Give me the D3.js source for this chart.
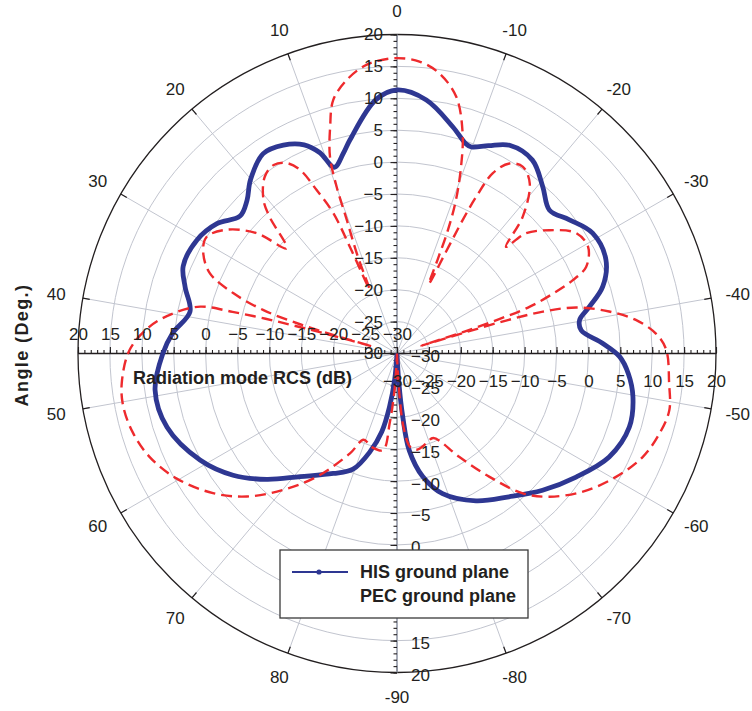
<!DOCTYPE html>
<html>
<head>
<meta charset="utf-8">
<script src="https://cdn.jsdelivr.net/npm/d3@7"></script>
<style>
    body { margin: 0; background: #fff; }
    svg { display: block; font-family: "Liberation Sans", Arial, sans-serif; }
</style>
</head>
<body>
<div id="chart"></div>
<script>
// ---- data (angle in degrees, RCS in dB) ----
const hisAngle = [-90, -89, -88.2, -87.4, -86.4, -84.1, -81, -75.9, -71, -66.6, -62.3, -58, -53.8, -50.2, -47.5,
    -45.4, -43.6, -41.4, -39.8, -38.2, -36, -32.9, -29.2, -26.1, -23.4, -20.6, -17.5, -14.2, -11.9, -9.9,
    -9.1, -6.9, -3.3, 0, 2.4, 6.2, 7.5, 9.3, 10.5, 12, 14.3, 16.9, 20.1, 22.2, 24.4, 27.1, 30.2, 33.9, 36.3,
    39.3, 42.4, 45, 49.3, 53.9, 59.2, 63.3, 67, 70.9, 76, 79.6, 82.3, 84.5, 86, 87.5, 89, 90];
const hisRcs = [-40, -32, -25.5, -20.1, -14.7, -10.3, -6.9, -3.8, -1.5, 1.3, 4.1, 7.0, 8.2, 7.6, 6.4,
    4.9, 2.3, -0.9, -0.9, 1.0, 3.9, 5.9, 6.0, 4.2, 2.8, 4.7, 7.0, 7.1, 5.6, 4.4,
    4.6, 6.6, 10.0, 11.3, 9.9, 4.3, 2.5, 0.8, 3.7, 5.8, 7.2, 7.7, 5.6, 3.6, 2.7, 4.8, 6.05, 6.2, 4.8,
    3.1, 5.3, 6.7, 8.35, 7.85, 5.1, 2.0, -1.6, -5.45, -8.7, -10.6, -14, -17.5, -21.5, -26, -31, -40];

const pecAngle = [-90, -89, -88.2, -87.5, -86, -84.2, -80.9, -78.4, -74.5, -71.6, -69, -66.6, -63.3, -59.7, -56.4,
    -53.5, -50.9, -48.1, -44.6, -42.8, -41, -39.4, -37.8, -37, -36.6, -36.4, -36.2, -36, -35.7, -35.3,
    -34.5, -33.7, -32.7, -30.4, -28, -25.5, -23.5, -22.8, -21.3, -19, -17, -15.3, -14, -13.4, -13.1,
    -12.9, -12.3, -11.7, -11.2, -10.5, -9.45, -8.3, -6.5, -4.3, -2.2, 0, 2.1, 3.35, 5.2, 7.05,
    8.2, 9.4, 9.95, 10.3, 10.95, 11.6, 11.9, 12.2, 13.1, 13.9, 15.05, 16.6, 18.4, 20.5, 21.5,
    23.2, 24.7, 27, 29.3, 31.3, 33.4, 34.9, 36, 36.6, 36.9, 37, 37.2, 37.4, 37.6, 37.9,
    38.3, 39.9, 41.9, 44.6, 48.1, 50.5, 53.4, 56.4, 59.8, 63.6, 66.8, 70.1, 73.5, 77.4, 79.4,
    82.5, 85.9, 87, 88, 89, 90];
const pecRcs = [-40, -28, -22.7, -18.5, -15.2, -14.6, -15.2, -15.6, -11.1, -5.9, -0.5, 2.8, 6.3, 9.4, 11.8,
    13.0, 13.6, 12.9, 12.2, 10.7, 7.8, 3.9, -1.0, -6.2, -12, -19, -26, -19, -13, -8,
    -3.8, -0.2, 2.6, 4.3, 3.8, 0.7, -2.4, -6.1, -0.9, 3.8, 5.3, 4.6, 2.0, -2.5, -6.7,
    -11.4, -18, -14, -9, -4.2, 1.0, 6.0, 11.3, 14.4, 15.9, 16.3, 15.9, 15.3, 13.6, 11.0,
    7.1, 2.6, -2.2, -7.6, -13.1, -19, -12.5, -5.9, -1.4, 2.5, 4.5, 5.3, 4.6, 1.9, -0.7,
    -6.1, -1.0, 3.0, 5.0, 4.2, 1.9, -2.7, -8, -14, -20, -26, -20, -14, -8.7, -3.4,
    1.7, 5.6, 9.0, 11.9, 13.4, 13.7, 13.2, 12.0, 9.7, 6.2, 2.5, -2.2, -7.0, -12.7, -15.5,
    -14.8, -14.7, -19, -24, -29, -40];

const rcsTicks = [-30, -25, -20, -15, -10, -5, 0, 5, 10, 15, 20];
const angleTicks = [-90, -80, -70, -60, -50, -40, -30, -20, -10, 0, 10, 20, 30, 40, 50, 60, 70, 80];
const seriesNames = ['HIS ground plane', 'PEC ground plane'];

// ---- layout ----
const width = 752, height = 711;
const cx = 397, cy = 353.5, R = 319;
const blue = '#2e3792', red = '#ee2a2d', grid = '#c2c5cf', ink = '#231f20';

const svg = d3.select('#chart').append('svg')
    .attr('width', width)
    .attr('height', height);

// scales: radius from dB, angle doubled (180 deg of data cover the full circle)
const scaleR = d3.scaleLinear().domain([-30, 20]).range([0, R]).clamp(true);
const scaleA = d3.scaleLinear().domain([-90, 90]).range([Math.PI, -Math.PI]);
const scaleLeft = d3.scaleLinear().domain([-30, 20]).range([0, -R]);
const scaleRight = d3.scaleLinear().domain([-30, 20]).range([0, R]);

const plot = svg.append('g').attr('transform', `translate(${cx},${cy})`);

// grid rings
plot.append('g').selectAll('circle')
    .data(rcsTicks.filter(d => d > -30 && d < 20))
    .join('circle')
    .attr('r', d => scaleR(d))
    .attr('fill', 'none')
    .attr('stroke', grid)
    .attr('stroke-width', 1);

// spokes
plot.append('g').selectAll('line')
    .data(angleTicks)
    .join('line')
    .attr('x1', 0).attr('y1', 0)
    .attr('x2', d => R * Math.sin(scaleA(d)))
    .attr('y2', d => -R * Math.cos(scaleA(d)))
    .attr('stroke', grid)
    .attr('stroke-width', 1);

// outer circle + its ticks
plot.append('circle')
    .attr('r', R)
    .attr('fill', 'none')
    .attr('stroke', ink)
    .attr('stroke-width', 1.3);
plot.append('g').selectAll('line')
    .data(angleTicks)
    .join('line')
    .attr('x1', d => R * Math.sin(scaleA(d)))
    .attr('y1', d => -R * Math.cos(scaleA(d)))
    .attr('x2', d => (R - 7) * Math.sin(scaleA(d)))
    .attr('y2', d => -(R - 7) * Math.cos(scaleA(d)))
    .attr('stroke', ink)
    .attr('stroke-width', 1.2);

// axis lines
plot.append('line')
    .attr('x1', 0).attr('x2', 0).attr('y1', -R).attr('y2', R)
    .attr('stroke', '#9aa0ae').attr('stroke-width', 1.6);
plot.append('line')
    .attr('x1', -R).attr('x2', R).attr('y1', 0).attr('y2', 0)
    .attr('stroke', ink).attr('stroke-width', 1.3);

// tick marks on the four half-axes
const minorTicks = d3.range(-30, 21, 1);
const tickLayer = plot.append('g');
[[d3.axisTop, scaleLeft], [d3.axisTop, scaleRight], [d3.axisLeft, scaleLeft], [d3.axisLeft, scaleRight]]
    .forEach(([gen, s]) => {
        tickLayer.append('g').call(gen(s).tickValues(minorTicks).tickSize(3.5).tickSizeOuter(0).tickFormat(''));
        tickLayer.append('g').call(gen(s).tickValues(rcsTicks).tickSize(6.5).tickSizeOuter(0).tickFormat(''));
    });
tickLayer.selectAll('.domain').remove();
tickLayer.selectAll('.tick line').attr('stroke', ink).attr('stroke-width', 1.1);

// curves
const line = d3.lineRadial()
    .angle(d => scaleA(d[0]))
    .radius(d => scaleR(d[1]))
    .curve(d3.curveCatmullRom.alpha(0.5));

const hisData = hisAngle.map((a, i) => [a, hisRcs[i]]);
const pecData = pecAngle.map((a, i) => [a, pecRcs[i]]);

plot.append('path')
    .datum(hisData)
    .attr('d', line)
    .attr('fill', 'none')
    .attr('stroke', blue)
    .attr('stroke-width', 4.8)
    .attr('stroke-linejoin', 'round');

plot.append('path')
    .datum(pecData)
    .attr('d', line)
    .attr('fill', 'none')
    .attr('stroke', red)
    .attr('stroke-width', 2.4)
    .attr('stroke-dasharray', '11,6');

// radial tick labels
const labelLayer = plot.append('g');
labelLayer.append('g').call(d3.axisTop(scaleLeft).tickValues(rcsTicks).tickSize(0).tickPadding(13.5));
labelLayer.append('g').call(d3.axisBottom(scaleRight).tickValues(rcsTicks).tickSize(0).tickPadding(21));
labelLayer.append('g').call(d3.axisLeft(scaleLeft).tickValues(rcsTicks).tickSize(0).tickPadding(14));
labelLayer.append('g').attr('transform', 'translate(0,2.5)')
    .call(d3.axisRight(scaleRight).tickValues(rcsTicks).tickSize(0).tickPadding(14));
labelLayer.selectAll('.domain').remove();
labelLayer.selectAll('g')
    .attr('font-size', 17)
    .attr('font-family', '"Liberation Sans", Arial, sans-serif');
labelLayer.selectAll('text').attr('fill', ink);

// angle labels
plot.append('g').selectAll('text')
    .data(angleTicks)
    .join('text')
    .attr('x', d => (343 + 3 * Math.abs(Math.sin(scaleA(d)))) * Math.sin(scaleA(d)))
    .attr('y', d => -(343 + 3 * Math.abs(Math.sin(scaleA(d)))) * Math.cos(scaleA(d)))
    .attr('dy', '0.36em')
    .attr('text-anchor', 'middle')
    .attr('font-size', 17)
    .attr('fill', ink)
    .text(d => d);

// axis titles
svg.append('text')
    .attr('x', 133)
    .attr('y', 384)
    .attr('font-size', 18)
    .attr('font-weight', 'bold')
    .attr('fill', ink)
    .text('Radiation mode RCS (dB)');

svg.append('text')
    .attr('transform', 'translate(28,345) rotate(-90)')
    .attr('text-anchor', 'middle')
    .attr('font-size', 18)
    .attr('font-weight', 'bold')
    .attr('letter-spacing', 1.4)
    .attr('fill', ink)
    .text('Angle (Deg.)');

// legend
const legend = svg.append('g').attr('transform', 'translate(280,550)');
legend.append('rect')
    .attr('width', 248)
    .attr('height', 68)
    .attr('fill', '#fff')
    .attr('stroke', '#3a3a3a')
    .attr('stroke-width', 1.3);
legend.append('line')
    .attr('x1', 12).attr('x2', 68).attr('y1', 22).attr('y2', 22)
    .attr('stroke', blue).attr('stroke-width', 2);
legend.append('circle')
    .attr('cx', 39).attr('cy', 22).attr('r', 2.6)
    .attr('fill', blue);
legend.selectAll('.legend-label')
    .data(seriesNames)
    .join('text')
    .attr('class', 'legend-label')
    .attr('x', 80)
    .attr('y', (d, i) => 28 + i * 23.5)
    .attr('font-size', 18)
    .attr('font-weight', 'bold')
    .attr('fill', ink)
    .text(d => d);
</script>
</body>
</html>
